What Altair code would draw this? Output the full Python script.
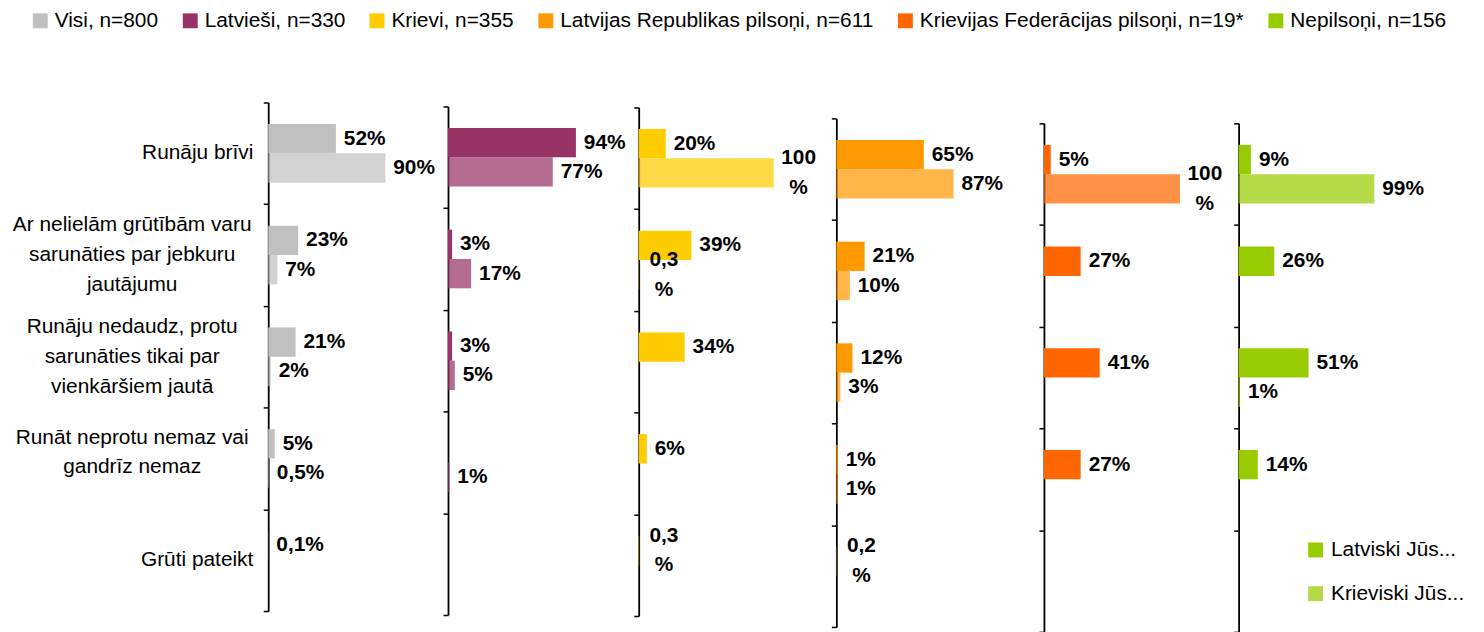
import altair as alt
import pandas as pd

# ---------------- data ----------------
categories = [
    "Runāju brīvi",
    "Ar nelielām grūtībām varu|sarunāties par jebkuru|jautājumu",
    "Runāju nedaudz, protu|sarunāties tikai par|vienkāršiem jautā",
    "Runāt neprotu nemaz vai|gandrīz nemaz",
    "Grūti pateikt",
]
groups = [
    "Visi, n=800",
    "Latvieši, n=330",
    "Krievi, n=355",
    "Latvijas Republikas pilsoņi, n=611",
    "Krievijas Federācijas pilsoņi, n=19*",
    "Nepilsoņi, n=156",
]
group_colors = ["#C0C0C0", "#993366", "#FFCC00", "#FF9900", "#FF6600", "#99CC00"]
languages = ["Latviski Jūs...", "Krieviski Jūs..."]

latviski_values = [
    [52, 23, 21, 5, 0.1],
    [94, 3, 3, None, None],
    [20, 39, 34, 6, 0.3],
    [65, 21, 12, 1, 0.2],
    [5, 27, 41, 27, None],
    [9, 26, 51, 14, None],
]
krieviski_values = [
    [90, 7, 2, 0.5, None],
    [77, 17, 5, 1, None],
    [100, 0.3, None, None, None],
    [87, 10, 3, 1, None],
    [100, None, None, None, None],
    [99, None, 1, None, None],
]
latviski_labels = [
    ["52%", "23%", "21%", "5%", "0,1%"],
    ["94%", "3%", "3%", "", ""],
    ["20%", "39%", "34%", "6%", "0,3|%"],
    ["65%", "21%", "12%", "1%", "0,2|%"],
    ["5%", "27%", "41%", "27%", ""],
    ["9%", "26%", "51%", "14%", ""],
]
krieviski_labels = [
    ["90%", "7%", "2%", "0,5%", ""],
    ["77%", "17%", "5%", "1%", ""],
    ["100|%", "0,3|%", "", "", ""],
    ["87%", "10%", "3%", "1%", ""],
    ["100|%", "", "", "", ""],
    ["99%", "", "1%", "", ""],
]

# ---------------- layout (not data) ----------------
panel_widths = [181, 192, 199, 209, 196, 239]
panel_px_per_100 = [131, 137, 136, 135.5, 137, 138]
panel_tops = [93, 97, 98, 109, 114, 114]
span = 512
FONT = "Liberation Sans"

rows = []
for gi, g in enumerate(groups):
    for ci, c in enumerate(categories):
        rows.append(dict(group=g, cat=c, lang=languages[0],
                         value=latviski_values[gi][ci], label=latviski_labels[gi][ci]))
        rows.append(dict(group=g, cat=c, lang=languages[1],
                         value=krieviski_values[gi][ci], label=krieviski_labels[gi][ci]))
data = pd.DataFrame(rows)
data = data[data["value"].notna()].reset_index(drop=True)
cat_df = pd.DataFrame({"cat": categories})


def panel(i):
    df = data[data["group"] == groups[i]]
    top = panel_tops[i]
    y_scale = alt.Scale(domain=categories, range=[top, top + span],
                        paddingInner=0, paddingOuter=0)
    y_axis = alt.Axis(title=None, tickBand="extent", labels=False, domainColor="#000",
                      domainWidth=1.8, tickColor="#000", tickWidth=1.5, tickSize=5, grid=False)
    y = alt.Y("cat:N", scale=y_scale, axis=y_axis)
    yoff = alt.YOffset("lang:N", scale=alt.Scale(domain=languages, paddingInner=0,
                                                 paddingOuter=0.736))
    x = alt.X("value:Q", scale=alt.Scale(domain=[0, 100], range=[0, panel_px_per_100[i]]), axis=None)

    base = alt.Chart(df)
    bars = base.mark_bar(strokeWidth=0).encode(
        x=x, y=y, yOffset=yoff,
        color=alt.Color("group:N", scale=alt.Scale(domain=groups, range=group_colors),
                        legend=alt.Legend(
                            title=None, orient="none", legendX=-240, legendY=0,
                            direction="horizontal", columns=6, symbolType="square",
                            symbolSize=225, symbolStrokeWidth=0, labelFontSize=21,
                            labelFont=FONT, labelColor="#000", columnPadding=21,
                            labelOffset=4, labelLimit=0)),
        opacity=alt.Opacity("lang:N", scale=alt.Scale(domain=languages, range=[1, 0.72]),
                            legend=alt.Legend(
                                title=None, orient="none", legendX=1044, legendY=533,
                                direction="vertical", symbolType="square", symbolSize=225,
                                symbolStrokeWidth=0, symbolFillColor="#99CC00",
                                labelFontSize=21, labelFont=FONT, labelColor="#000",
                                rowPadding=22, labelOffset=5, labelLimit=0)),
    )
    single = base.transform_filter(
        "datum.label != '' && indexof(datum.label, '|') < 0"
    ).mark_text(align="left", baseline="middle", dx=8, fontSize=21, fontWeight="bold",
                font=FONT, color="#000").encode(x=x, y=y, yOffset=yoff, text="label:N")
    wrapped = base.transform_filter(
        "indexof(datum.label, '|') >= 0"
    ).mark_text(align="center", baseline="middle", dx=25, dy=-15, fontSize=21, fontWeight="bold",
                font=FONT, color="#000", lineBreak="|", lineHeight=30).encode(
        x=x, y=y, yOffset=yoff, text="label:N")
    layers = [bars, single, wrapped]
    if i == 0:
        cats = alt.Chart(cat_df)
        one_line = cats.transform_filter("indexof(datum.cat, '|') < 0").mark_text(
            align="right", baseline="middle", fontSize=21, font=FONT, color="#000"
        ).encode(x=alt.value(-15), y=y, text="cat:N")
        three_lines = cats.transform_filter("length(split(datum.cat, '|')) == 3").mark_text(
            align="center", baseline="middle", fontSize=21, font=FONT, color="#000",
            lineBreak="|", lineHeight=30, dy=-30
        ).encode(x=alt.value(-137), y=y, text="cat:N")
        two_lines = cats.transform_filter("length(split(datum.cat, '|')) == 2").mark_text(
            align="center", baseline="middle", fontSize=21, font=FONT, color="#000",
            lineBreak="|", lineHeight=30, dy=-21
        ).encode(x=alt.value(-137), y=y, text="cat:N")
        layers += [one_line, three_lines, two_lines]
    return alt.layer(*layers).properties(width=panel_widths[i], height=626)


chart = alt.hconcat(*[panel(i) for i in range(6)], spacing=0, bounds="flush").properties(
    padding={"left": 4, "top": 0, "right": 0, "bottom": 0}
).configure(font=FONT).configure_view(stroke=None)

chart.save("out.html", embed_options={"renderer": "svg", "actions": False})
